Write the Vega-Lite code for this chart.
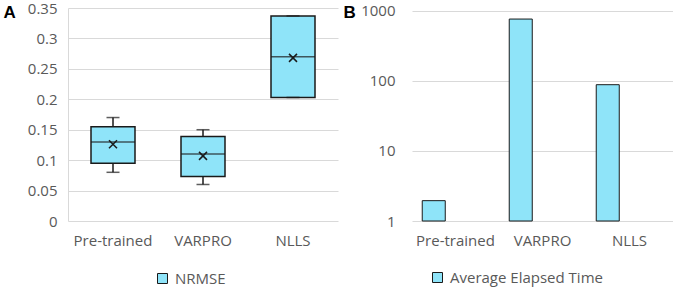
{
  "$schema": "https://vega.github.io/schema/vega-lite/v6.json",
  "padding": {"left": 3, "top": 1, "right": 0, "bottom": 0},
  "bounds": "flush",
  "spacing": 74,
  "resolve": {"scale": {"fill": "independent"}, "legend": {"fill": "independent"}},
  "config": {
    "view": {"stroke": null},
    "font": "Open Sans",
    "axis": {
      "labelFont": "Open Sans",
      "labelFontSize": 15,
      "labelColor": "#595959",
      "labelOverlap": false,
      "ticks": false,
      "domain": false,
      "gridColor": "#d9d9d9",
      "gridWidth": 1
    },
    "axisY": {
      "titleAngle": 0,
      "titleFont": "Liberation Sans",
      "titleFontSize": 17,
      "titleFontWeight": "bold",
      "titleColor": "#000000",
      "titleAlign": "left",
      "titleBaseline": "top",
      "titleY": -4,
      "grid": true
    },
    "legend": {
      "labelFont": "Open Sans",
      "labelFontSize": 15,
      "labelColor": "#595959",
      "symbolType": "square",
      "symbolSize": 100,
      "symbolStrokeColor": "#1a1a1a",
      "symbolStrokeWidth": 1,
      "labelOffset": 5,
      "title": null
    }
  },
  "datasets": {
    "nrmse": [
      {"method": "Pre-trained", "series": "NRMSE", "min": 0.08, "q1": 0.095, "median": 0.13, "q3": 0.155, "max": 0.17, "mean": 0.126},
      {"method": "VARPRO", "series": "NRMSE", "min": 0.06, "q1": 0.073, "median": 0.11, "q3": 0.139, "max": 0.15, "mean": 0.107},
      {"method": "NLLS", "series": "NRMSE", "min": 0.203, "q1": 0.203, "median": 0.27, "q3": 0.337, "max": 0.337, "mean": 0.268}
    ],
    "time": [
      {"method": "Pre-trained", "series": "Average Elapsed Time", "time": 1.95},
      {"method": "VARPRO", "series": "Average Elapsed Time", "time": 760},
      {"method": "NLLS", "series": "Average Elapsed Time", "time": 88}
    ]
  },
  "hconcat": [
    {
      "width": 270,
      "height": 213,
      "data": {"name": "nrmse"},
      "encoding": {
        "x": {
          "field": "method", "type": "nominal", "sort": null, "title": null,
          "scale": {"paddingInner": 0, "paddingOuter": 0},
          "axis": {"labelAngle": 0, "labelPadding": 12, "grid": false}
        }
      },
      "layer": [
        {
          "mark": {"type": "bar", "size": 44, "stroke": "#1a1a1a", "strokeWidth": 1.5},
          "encoding": {
            "y": {
              "field": "q1", "type": "quantitative", "title": "A",
              "scale": {"domain": [0, 0.35], "nice": false, "zero": false},
              "axis": {"values": [0, 0.05, 0.1, 0.15, 0.2, 0.25, 0.3, 0.35], "format": ".2~f", "labelPadding": 11, "domain": true, "domainColor": "#d9d9d9", "title": "A", "titleX": -65}
            },
            "y2": {"field": "q3"},
            "fill": {
              "field": "series", "type": "nominal",
              "scale": {"domain": ["NRMSE"], "range": ["#8FE4F9"]},
              "legend": {"orient": "none", "legendX": 87, "legendY": 263}
            }
          }
        },
        {
          "mark": {"type": "rule", "color": "#1a1a1a", "strokeWidth": 1.5},
          "encoding": {
            "y": {"field": "min", "type": "quantitative", "title": "A",
              "axis": {"values": [0, 0.05, 0.1, 0.15, 0.2, 0.25, 0.3, 0.35], "format": ".2~f", "labelPadding": 11, "domain": true, "domainColor": "#d9d9d9", "title": "A", "titleX": -65}},
            "y2": {"field": "q1"}
          }
        },
        {
          "mark": {"type": "rule", "color": "#1a1a1a", "strokeWidth": 1.5},
          "encoding": {
            "y": {"field": "q3", "type": "quantitative", "title": "A",
              "axis": {"values": [0, 0.05, 0.1, 0.15, 0.2, 0.25, 0.3, 0.35], "format": ".2~f", "labelPadding": 11, "domain": true, "domainColor": "#d9d9d9", "title": "A", "titleX": -65}},
            "y2": {"field": "max"}
          }
        },
        {
          "mark": {"type": "tick", "color": "#1a1a1a", "size": 13, "thickness": 1.5},
          "encoding": {"y": {"field": "min", "type": "quantitative", "title": "A",
            "axis": {"values": [0, 0.05, 0.1, 0.15, 0.2, 0.25, 0.3, 0.35], "format": ".2~f", "labelPadding": 11, "domain": true, "domainColor": "#d9d9d9", "title": "A", "titleX": -65}}}
        },
        {
          "mark": {"type": "tick", "color": "#1a1a1a", "size": 13, "thickness": 1.5},
          "encoding": {"y": {"field": "max", "type": "quantitative", "title": "A",
            "axis": {"values": [0, 0.05, 0.1, 0.15, 0.2, 0.25, 0.3, 0.35], "format": ".2~f", "labelPadding": 11, "domain": true, "domainColor": "#d9d9d9", "title": "A", "titleX": -65}}}
        },
        {
          "mark": {"type": "tick", "color": "#1a1a1a", "size": 44, "thickness": 1.5},
          "encoding": {"y": {"field": "median", "type": "quantitative", "title": "A",
            "axis": {"values": [0, 0.05, 0.1, 0.15, 0.2, 0.25, 0.3, 0.35], "format": ".2~f", "labelPadding": 11, "domain": true, "domainColor": "#d9d9d9", "title": "A", "titleX": -65}}}
        },
        {
          "mark": {"type": "point", "shape": "M-1,-1L1,1M-1,1L1,-1", "size": 64, "filled": false, "color": "#1a1a1a", "strokeWidth": 1.5, "opacity": 1},
          "encoding": {"y": {"field": "mean", "type": "quantitative", "title": "A",
            "axis": {"values": [0, 0.05, 0.1, 0.15, 0.2, 0.25, 0.3, 0.35], "format": ".2~f", "labelPadding": 11, "domain": true, "domainColor": "#d9d9d9", "title": "A", "titleX": -65}}}
        }
      ]
    },
    {
      "width": 261,
      "height": 213,
      "data": {"name": "time"},
      "mark": {"type": "bar", "stroke": "#1a1a1a", "strokeWidth": 1},
      "encoding": {
        "x": {
          "field": "method", "type": "nominal", "sort": null, "title": null,
          "scale": {"paddingInner": 0, "paddingOuter": 0},
          "axis": {"labelAngle": 0, "labelPadding": 12, "grid": false}
        },
        "xOffset": {
          "field": "series", "type": "nominal",
          "scale": {"domain": ["Average Elapsed Time", "(none)"], "paddingInner": 0.471, "paddingOuter": 0.2356}
        },
        "y": {
          "field": "time", "type": "quantitative", "title": "B",
          "scale": {"type": "log", "domain": [1, 1093], "nice": false},
          "axis": {"values": [1, 10, 100, 1000], "format": "d", "labelPadding": 17, "title": "B", "titleX": -69}
        },
        "y2": {"datum": 1},
        "fill": {
          "field": "series", "type": "nominal",
          "scale": {"domain": ["Average Elapsed Time"], "range": ["#8FE4F9"]},
          "legend": {"orient": "none", "legendX": 18, "legendY": 262}
        }
      }
    }
  ]
}
